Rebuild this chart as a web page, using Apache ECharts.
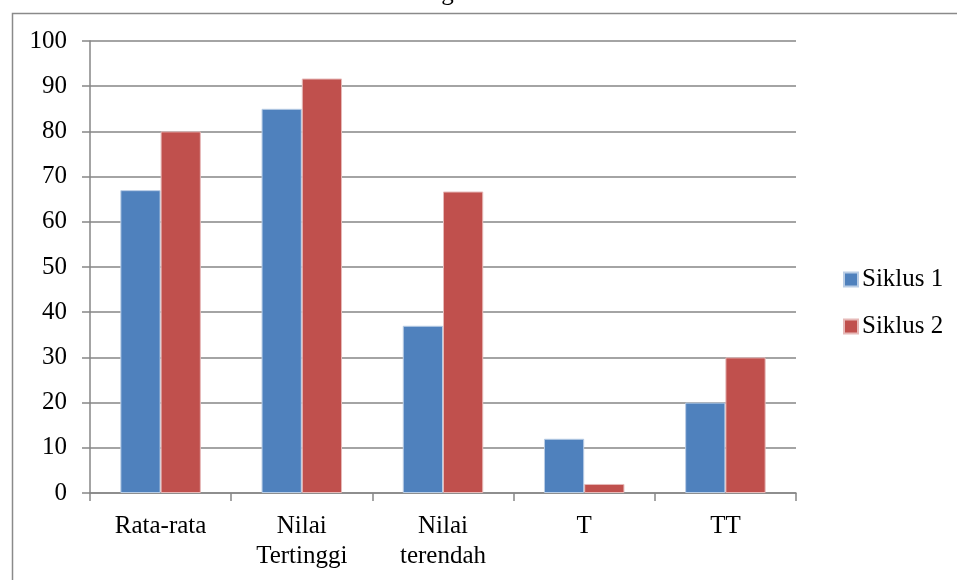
<!DOCTYPE html>
<html><head><meta charset="utf-8">
<script src="https://cdn.jsdelivr.net/npm/echarts@6/dist/echarts.min.js"></script>
<style>html,body{margin:0;padding:0;background:#fff}#c{width:957px;height:580px}</style>
</head><body><div id="c"></div>
<script>
const titleText = 'Grafik Hasil Nilai Pengetahuan Siswa Siklus I dan Siklus II';
const categories = ['Rata-rata', 'Nilai\nTertinggi', 'Nilai\nterendah', 'T', 'TT'];
const seriesNames = ['Siklus 1', 'Siklus 2'];
const siklus1 = [67, 85, 37, 12, 20];
const siklus2 = [80, 91.7, 66.7, 2, 30];
const yTicks = {min: 0, max: 100, interval: 10};

const font = 'Liberation Serif';
const chart = echarts.init(document.getElementById('c'));
chart.setOption({
  animation: false,
  backgroundColor: '#fff',
  textStyle: {fontFamily: font},
  title: {text: titleText, left: 212, top: -24,
    textStyle: {fontFamily: font, fontSize: 25, fontWeight: 'normal', color: '#000'}},
  graphic: [{type: 'rect', left: 10, top: 11, z: -1,
    shape: {width: 1000, height: 1000},
    style: {fill: 'none', stroke: '#8a8a8a', lineWidth: 1.5}}],
  legend: {orient: 'vertical', left: 838, top: 262, itemWidth: 14, itemHeight: 14,
    itemGap: 22, icon: 'rect',
    textStyle: {fontFamily: font, fontSize: 25, color: '#000', padding: [0, 0, 0, -1]},
    data: seriesNames},
  grid: {left: 90, top: 41, width: 706, height: 452, containLabel: false},
  xAxis: {type: 'category', data: categories,
    axisLine: {lineStyle: {color: '#868686', width: 1.5}},
    axisTick: {show: true, length: 8, alignWithLabel: false, lineStyle: {color: '#868686', width: 1.5}},
    axisLabel: {fontFamily: font, fontSize: 25, color: '#000', margin: 18, lineHeight: 30}},
  yAxis: {type: 'value', min: yTicks.min, max: yTicks.max, interval: yTicks.interval,
    axisLine: {show: true, lineStyle: {color: '#868686', width: 1.5}},
    axisTick: {show: true, length: 8, lineStyle: {color: '#868686', width: 1.5}},
    splitLine: {lineStyle: {color: '#868686', width: 1.5}},
    axisLabel: {fontFamily: font, fontSize: 25, color: '#000', margin: 23}},
  series: [
    {name: seriesNames[0], type: 'bar', data: siklus1, barGap: '0%', barCategoryGap: '43%',
      itemStyle: {color: '#4F81BD', borderColor: '#b9cde5', borderWidth: 1}},
    {name: seriesNames[1], type: 'bar', data: siklus2, barGap: '0%', barCategoryGap: '43%',
      itemStyle: {color: '#C0504D', borderColor: '#e6b9b8', borderWidth: 1}}
  ]
});
</script></body></html>
